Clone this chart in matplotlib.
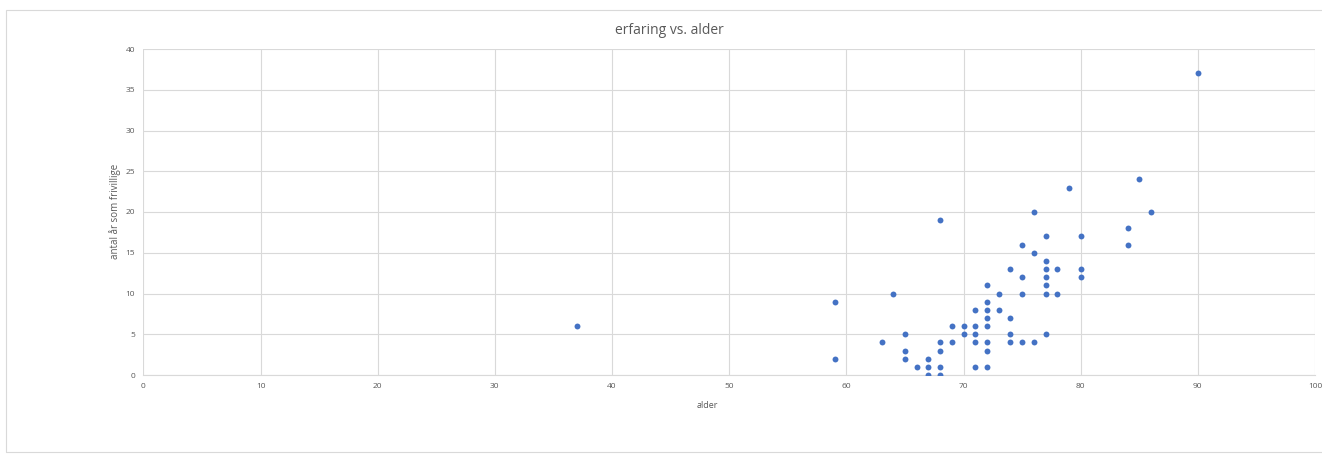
import matplotlib
matplotlib.use("Agg")
import matplotlib.pyplot as plt
from matplotlib.patches import Rectangle

# Age (alder) and years as volunteer (antal år som frivillig)
alder = [37, 59, 59, 63, 64, 65, 65, 65, 66, 67, 67, 67, 68, 68, 68, 68, 68,
         69, 69, 70, 70, 71, 71, 71, 71, 71, 72, 72, 72, 72, 72, 72, 72, 72,
         73, 73, 74, 74, 74, 74, 75, 75, 75, 75, 76, 76, 76, 77, 77, 77, 77,
         77, 77, 77, 78, 78, 79, 80, 80, 80, 84, 84, 85, 86, 90]
erfaring = [6, 9, 2, 4, 10, 5, 3, 2, 1, 2, 1, 0, 19, 4, 3, 1, 0,
            6, 4, 6, 5, 8, 6, 5, 4, 1, 11, 9, 8, 7, 6, 4, 3, 1,
            10, 8, 13, 7, 5, 4, 16, 12, 10, 4, 20, 15, 4, 17, 14, 13, 12,
            11, 10, 5, 13, 10, 23, 17, 13, 12, 18, 16, 24, 20, 37]

x_ticks = list(range(0, 101, 10))
y_ticks = list(range(0, 41, 5))

plt.rcParams['font.family'] = ['Open Sans', 'DejaVu Sans']

W, H = 1322, 454
fig = plt.figure(figsize=(W / 100, H / 100), dpi=100)
fig.patches.append(Rectangle((6 / W, 0.005), 1.0, 1 - 10 / H - 0.005,
                             transform=fig.transFigure, fill=False,
                             edgecolor='#d9d9d9', linewidth=0.8))

ax = fig.add_axes([143.4 / W, 1 - 375 / H, (1315 - 143.4) / W, (375 - 49) / H])
ax.scatter(alder, erfaring, s=18, color='#4472C4', zorder=3, linewidths=0)

ax.set_xlim(0, 100)
ax.set_ylim(0, 40)
ax.set_xticks(x_ticks)
ax.set_yticks(y_ticks)
ax.grid(True, color='#d9d9d9', linewidth=0.8)
ax.set_axisbelow(True)
for side in ['top', 'right', 'left']:
    ax.spines[side].set_visible(False)
ax.spines['bottom'].set_color('#d9d9d9')
ax.tick_params(length=0, labelsize=6, colors='#595959', pad=6)

fig.text(669 / W, 1 - 30 / H, 'erfaring vs. alder', fontsize=10,
         color='#595959', ha='center', va='center')
fig.text(707 / W, 1 - 405 / H, 'alder', fontsize=6.5,
         color='#595959', ha='center', va='center')
fig.text(115 / W, 1 - 211 / H, 'antal år som frivillige', fontsize=7,
         color='#595959', ha='center', va='center', rotation=90)

fig.savefig('out.png', dpi=100)
